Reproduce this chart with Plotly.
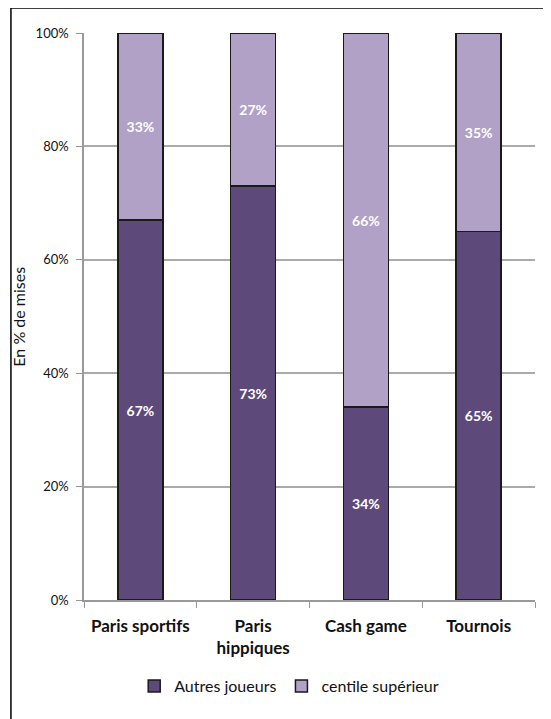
import plotly.graph_objects as go

categories = ["Paris sportifs", "Paris<br>hippiques", "Cash game", "Tournois"]
autres = [67, 73, 34, 65]
centile = [33, 27, 66, 35]
series_names = ["Autres joueurs", "centile supérieur"]
colors = ["#5E4A7A", "#B2A1C7"]
y_ticks = [0, 20, 40, 60, 80, 100]
y_tick_labels = ["0%", "20%", "40%", "60%", "80%", "100%"]

FONT = "Lato"

fig = go.Figure()
for name, vals, col in zip(series_names, [autres, centile], colors):
    fig.add_trace(go.Bar(
        x=categories, y=vals, name=name,
        marker=dict(color=col, line=dict(color="#1a1a1a", width=1.5)),
        text=[f"{v}%" for v in vals], textposition="inside",
        insidetextanchor="middle",
        textfont=dict(color="white", size=14, family=FONT, weight="bold"),
    ))

fig.update_layout(
    barmode="stack", bargap=0.6,
    width=551, height=719,
    margin=dict(l=76, r=24, t=25, b=127),
    paper_bgcolor="white", plot_bgcolor="white",
    font=dict(family=FONT, color="#222"),
    uniformtext=dict(minsize=8, mode="show"),
    legend=dict(orientation="h", x=0.455, xanchor="center", y=-0.152, yanchor="middle",
                font=dict(size=16, family=FONT, color="#111"), traceorder="normal",
                itemwidth=30),
    xaxis=dict(showline=True, linecolor="#999", linewidth=1.5, ticks="outside",
               tickson="boundaries", ticklen=6, tickcolor="#999",
               ticklabelstandoff=10,
               tickfont=dict(size=17, family=FONT, color="#111", weight="bold")),
    yaxis=dict(range=[0, 100], tickvals=y_ticks, ticktext=y_tick_labels,
               showline=True, linecolor="#999", linewidth=1.5,
               showgrid=True, gridcolor="#aaa", gridwidth=1.5,
               ticks="outside", ticklen=6, tickcolor="#999",
               ticklabelstandoff=5,
               tickfont=dict(size=13, family=FONT, color="#111")),
    annotations=[dict(text="En % de mises", xref="paper", yref="paper",
                      x=-0.146, y=0.5, xanchor="center", yanchor="middle",
                      textangle=-90, showarrow=False,
                      font=dict(size=16, family=FONT, color="#111"))],
    shapes=[dict(type="rect", xref="paper", yref="paper",
                 x0=-0.162, x1=1.04, y0=-0.215, y1=1.044,
                 line=dict(color="black", width=1.5), layer="below")],
)

fig.write_html("out.html")
